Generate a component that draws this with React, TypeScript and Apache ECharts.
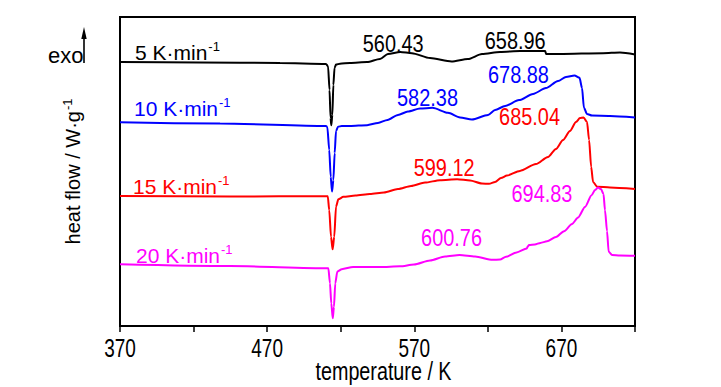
import React, { useEffect, useRef } from "react";
import * as echarts from "echarts";

// temperature (K) vs heat flow (arbitrary offset units)
const T0 = 370;
const xTicksEvery = 50;
const xMax = 720;
const xTickLabels = [370, 470, 570, 670];

const rate5: [number, number][] = [
  [370, 85.4], [424.4, 85.3], [478.7, 85.1], [510.0, 84.8], [511.4, 84.1], [512.4, 76.4],
  [513.1, 67.3], [513.6, 65.0], [514.3, 68.3], [515.0, 78.0], [515.8, 83.5], [516.8, 84.6],
  [519.5, 84.9], [526.3, 85.1], [537.9, 85.4],
  [546.7, 86.4], [552.1, 88.0], [560.43, 88.7], [568.4, 88.3], [580.7, 86.7], [595.3, 85.6],
  [606.5, 86.4], [616.0, 88.0], [628.3, 88.7], [641.9, 89.0], [655.4, 89.0], [658.96, 89.0],
  [659.6, 88.0], [669.0, 88.0], [698.3, 88.3], [709.8, 88.5], [720, 87.9],
];
const rate10: [number, number][] = [
  [370, 65.9], [438, 65.5], [510.0, 64.7], [510.9, 64.4], [512.2, 57.0], [513.2, 48.3],
  [514.1, 43.5], [515.0, 47.2], [515.9, 56.0], [516.8, 63.1], [518.2, 64.5], [520.7, 64.7],
  [526.3, 64.7], [537.9, 65.0], [545.3, 65.7],
  [551.8, 66.7], [558.9, 68.3], [565.7, 69.4], [573.9, 70.4], [582.38, 70.6], [592.9, 69.0],
  [601.1, 67.5], [609.2, 66.8], [620.1, 68.3], [624.9, 69.9], [631.7, 71.2], [641.2, 73.1],
  [650.7, 75.1], [659.5, 77.0], [667.7, 79.3], [673.1, 80.6], [678.88, 81.1], [682.3, 80.3],
  [684.0, 77.0], [685.3, 70.6], [687.4, 68.6], [690.8, 68.1], [703.0, 68.0], [720, 67.5],
];
const rate15: [number, number][] = [
  [370, 42.1], [444.8, 41.9], [511.2, 42.0], [512.2, 37.5], [513.4, 28.9], [514.5, 24.8],
  [515.6, 28.9], [516.8, 38.6], [518.4, 41.0], [521.8, 41.8], [530, 42.2], [539.9, 42.7], [549.4, 43.2],
  [558.9, 44.3], [567.8, 45.3], [577.3, 46.4], [587.5, 47.2], [599.12, 47.5], [607.9, 47.1],
  [616.0, 46.1], [620.8, 46.0], [624.9, 46.6], [628.9, 47.9], [633.0, 48.7], [641.8, 50.2],
  [652.7, 52.4], [660.9, 54.7], [666.3, 57.3], [671.1, 60.2], [675.8, 63.1], [679.9, 66.0],
  [682.6, 67.3], [685.04, 67.5], [687.4, 66.0], [688.8, 60.2], [690.2, 51.5], [691.5, 46.6],
  [694.2, 45.1], [703.0, 44.8], [720, 44.3],
];
const rate20: [number, number][] = [
  [370, 20.0], [444.8, 19.4], [511.6, 18.7], [512.7, 13.8], [513.6, 7.3], [514.6, 2.5],
  [515.4, 6.2], [516.3, 13.8], [517.7, 17.6], [520.7, 18.4], [528.4, 19.1], [546.7, 19.1], [560.3, 19.3],
  [569.8, 19.9], [580.7, 21.2], [590.9, 22.5], [600.76, 23.0], [611.3, 22.5], [623.2, 21.4],
  [628.3, 21.5], [632.3, 22.4], [639.5, 23.8], [646.5, 25.1], [647.0, 25.7], [648.0, 26.2],
  [652.0, 26.4], [655.7, 26.9], [660.2, 27.4], [666.3, 28.8], [671.8, 30.7], [677.2, 33.0],
  [681.3, 35.1], [686.0, 38.5], [690.5, 42.3], [692.8, 44.0], [694.83, 44.8], [696.9, 44.3],
  [698.6, 42.7], [699.6, 37.5], [701.0, 30.7], [702.1, 24.0], [704.4, 23.0], [709.8, 22.8],
  [720, 22.7],
];

const seriesNames = ["5 K·min", "10 K·min", "15 K·min", "20 K·min"];
const seriesColors = ["#000000", "#0000ff", "#ff0000", "#ff00ff"];
const peakTemps = [
  [560.43, 658.96],
  [582.38, 678.88],
  [599.12, 685.04],
  [600.76, 694.83],
];
// label offsets relative to peak points (layout only)
const peakOffsets = [
  [[-7, -8], [-30, -10]],
  [[-5, -10], [-56, -1]],
  [[-13, -11], [-54, -1]],
  [[-8, -17], [-56, 6]],
];
const nameLabelPos = [
  [135, 52],
  [134, 108],
  [133, 186],
  [136, 255],
];

const FONT = "'Liberation Sans', Arial, sans-serif";

export default function App() {
  const ref = useRef<HTMLDivElement>(null);
  useEffect(() => {
    if (!ref.current) return;
    const chart = echarts.init(ref.current, undefined, { renderer: "svg" });
    const all = [rate5, rate10, rate15, rate20];
    const series = all.map((d, i) => ({
      type: "line",
      name: seriesNames[i],
      data: d.map(([t, v]) => [t - T0, v]),
      showSymbol: false,
      symbol: "none",
      smooth: 0.25,
      smoothMonotone: "x",
      lineStyle: { color: seriesColors[i], width: 2 },
      itemStyle: { color: seriesColors[i] },
    }));
    chart.setOption({
      animation: false,
      grid: { left: 120, right: 86, top: 17, bottom: 61, show: true, borderColor: "#000", borderWidth: 2 },
      xAxis: {
        type: "value",
        min: 0,
        max: xMax - T0,
        interval: xTicksEvery,
        axisLine: { show: true, lineStyle: { color: "#000", width: 2 } },
        axisTick: { show: true, length: 6, lineStyle: { color: "#000", width: 1.5 } },
        axisLabel: { show: false },
        splitLine: { show: false },
      },
      yAxis: {
        type: "value",
        min: 0,
        max: 100,
        name: "heat flow / W·g{s|-1}",
        nameLocation: "middle",
        nameRotate: 90,
        nameGap: 36,
        nameTextStyle: {
          fontSize: 20,
          color: "#000",
          fontFamily: FONT,
          rich: { s: { fontSize: 13, color: "#000", fontFamily: FONT, padding: [0, 0, 10, 1] } },
        },
        axisLine: { show: true, lineStyle: { color: "#000", width: 2 } },
        axisTick: { show: false },
        axisLabel: { show: false },
        splitLine: { show: false },
      },
      series,
    });

    const toPx = (t: number, v: number) =>
      chart.convertToPixel({ gridIndex: 0 }, [t - T0, v]) as number[];
    const narrow = (x: number, y: number, text: string, fill: string, fontSize: number, scaleX: number) => ({
      type: "text",
      x,
      y,
      scaleX,
      silent: true,
      style: { text, fill, fontSize, fontFamily: FONT, align: "center", verticalAlign: "middle" },
    });

    const graphic: any[] = [];
    // tick labels
    xTickLabels.forEach((t) => {
      const [x, y] = toPx(t, 0);
      graphic.push(narrow(x, y + 23, String(t), "#000", 25, 0.76));
    });
    // x axis title
    {
      const [xa, y] = toPx(T0, 0);
      const [xb] = toPx(xMax, 0);
      graphic.push(narrow((xa + xb) / 2 + 6, y + 46, "temperature / K", "#000", 25, 0.79));
    }
    // peak labels
    all.forEach((d, i) => {
      peakTemps[i].forEach((pt, j) => {
        let best = d[0];
        d.forEach((p) => {
          if (Math.abs(p[0] - pt) < Math.abs(best[0] - pt)) best = p;
        });
        const [x, y] = toPx(pt, best[1]);
        graphic.push(
          narrow(x + peakOffsets[i][j][0], y + peakOffsets[i][j][1], pt.toFixed(2), seriesColors[i], 24, 0.83)
        );
      });
    });
    // exo arrow
    graphic.push(
      {
        type: "text",
        x: 48,
        y: 55,
        style: { text: "exo", fill: "#000", fontSize: 22, fontFamily: FONT, verticalAlign: "middle" },
      },
      { type: "line", shape: { x1: 84, y1: 63, x2: 84, y2: 36 }, style: { stroke: "#000", lineWidth: 1.6 } },
      { type: "polygon", shape: { points: [[84, 27], [81.3, 39], [86.7, 39]] }, style: { fill: "#000" } }
    );
    // heating-rate labels
    seriesNames.forEach((n, i) => {
      graphic.push({
        type: "text",
        x: nameLabelPos[i][0],
        y: nameLabelPos[i][1],
        style: {
          text: n + "{s|-1}",
          fill: seriesColors[i],
          fontSize: 21,
          fontFamily: FONT,
          verticalAlign: "middle",
          rich: { s: { fontSize: 13, fill: seriesColors[i], fontFamily: FONT, padding: [0, 0, 11, 1] } },
        },
      });
    });
    chart.setOption({ graphic });
    return () => chart.dispose();
  }, []);
  return <div ref={ref} style={{ position: "absolute", left: 0, top: 0, width: 721, height: 387 }} />;
}
